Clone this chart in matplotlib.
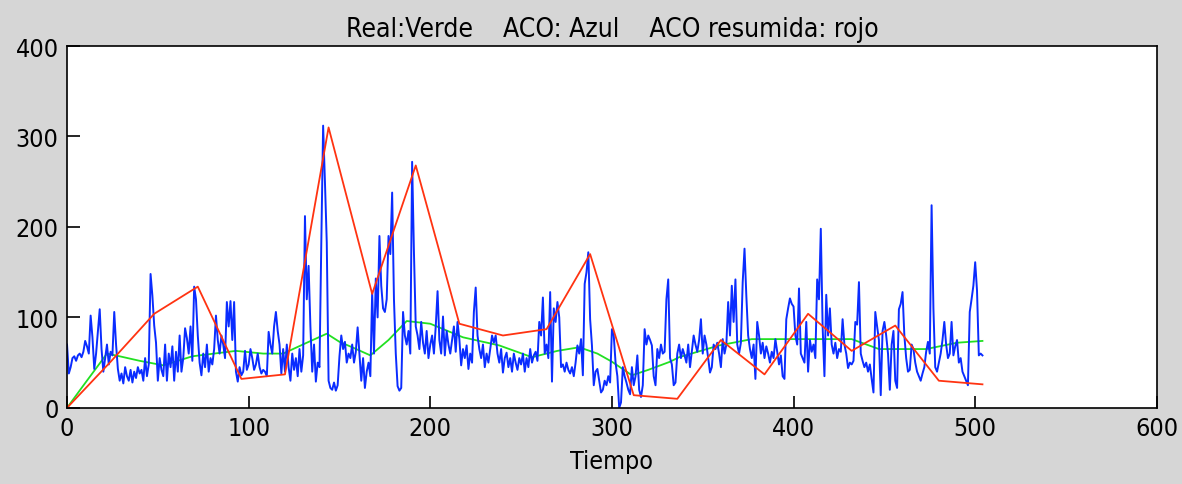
import numpy as np
import matplotlib.pyplot as plt

# serie ACO (azul), un valor por instante t = 0..504
aco = [
    70, 38, 45, 55, 57, 52, 58, 60, 56, 62,
    74, 68, 60, 102, 78, 43, 60, 85, 109, 65,
    40, 55, 70, 48, 62, 58, 106, 70, 43, 30,
    38, 27, 45, 35, 30, 42, 28, 40, 33, 45,
    38, 42, 30, 55, 35, 48, 148, 124, 91, 72,
    30, 55, 42, 35, 70, 30, 60, 45, 68, 30,
    62, 40, 80, 40, 55, 88, 77, 60, 90, 52,
    134, 120, 80, 50, 36, 60, 45, 70, 40, 55,
    48, 65, 102, 75, 60, 80, 70, 55, 117, 90,
    118, 75, 117, 40, 29, 45, 36, 40, 63, 42,
    48, 65, 55, 42, 48, 60, 45, 38, 42, 40,
    35, 84, 70, 60, 90, 106, 85, 70, 38, 65,
    40, 70, 45, 30, 60, 42, 55, 35, 65, 40,
    58, 212, 120, 157, 90, 40, 70, 29, 50, 45,
    183, 312, 250, 183, 30, 22, 20, 28, 19, 25,
    57, 80, 65, 73, 50, 60, 55, 70, 50, 62,
    89, 60, 30, 55, 22, 40, 50, 35, 128, 60,
    143, 100, 190, 135, 110, 106, 120, 190, 170, 238,
    120, 60, 24, 19, 22, 106, 80, 70, 85, 60,
    272, 172, 90, 80, 65, 95, 72, 60, 85, 55,
    70, 80, 60, 90, 129, 75, 60, 101, 58, 85,
    70, 60, 75, 90, 62, 95, 76, 47, 65, 55,
    69, 43, 60, 50, 106, 133, 80, 65, 55, 70,
    45, 60, 50, 65, 80, 72, 80, 60, 50, 65,
    39, 55, 61, 45, 55, 40, 60, 50, 42, 55,
    48, 60, 40, 55, 45, 65, 50, 58, 62, 52,
    95, 80, 122, 60, 70, 55, 128, 29, 110, 95,
    117, 100, 45, 48, 40, 50, 42, 38, 45, 35,
    50, 69, 60, 76, 36, 137, 150, 172, 98, 69,
    25, 40, 43, 30, 17, 20, 30, 25, 35, 28,
    87, 80, 50, 35, 0, 6, 45, 35, 28, 20,
    15, 45, 25, 35, 58, 20, 12, 25, 87, 70,
    80, 75, 69, 35, 25, 65, 55, 70, 60, 62,
    120, 142, 55, 48, 25, 28, 60, 70, 55, 65,
    58, 50, 70, 45, 62, 80, 70, 62, 75, 98,
    60, 80, 70, 55, 39, 45, 70, 65, 72, 60,
    45, 76, 60, 70, 117, 80, 135, 95, 142, 70,
    60, 72, 139, 176, 124, 80, 65, 55, 70, 32,
    95, 80, 60, 72, 55, 68, 60, 50, 62, 55,
    76, 62, 48, 58, 35, 32, 98, 110, 121, 115,
    112, 80, 70, 132, 60, 55, 50, 95, 40, 75,
    62, 70, 55, 142, 120, 198, 90, 35, 125, 80,
    110, 70, 60, 72, 55, 65, 62, 98, 70, 60,
    44, 50, 48, 52, 95, 92, 139, 60, 52, 45,
    50, 40, 48, 32, 17, 106, 90, 75, 14, 85,
    95, 80, 60, 20, 70, 85, 30, 22, 109, 115,
    128, 80, 55, 40, 42, 70, 65, 50, 40, 35,
    30, 38, 45, 62, 73, 60, 224, 110, 45, 40,
    50, 60, 75, 95, 70, 55, 60, 95, 58, 68,
    75, 50, 55, 40, 35, 30, 25, 106, 120, 135,
    161, 130, 58, 60, 58,
]
t_aco = np.arange(len(aco))

# serie real (verde)
t_real = [0, 8, 15, 22, 29, 40, 53, 69, 93, 108, 119, 132, 143, 150, 157,
          167, 177, 187, 200, 218, 238, 256, 270, 282, 292, 300, 311, 320,
          332, 337, 359, 377, 400, 432, 447, 473, 490, 504]
real = [0, 22, 41, 60, 57, 52, 47, 57, 63, 60, 60, 72, 82, 73, 67,
        58, 75, 96, 93, 78, 69, 56, 63, 67, 60, 51, 36, 42,
        51, 56, 69, 76, 76, 76, 65, 65, 72, 74]

# ACO resumida (rojo), un punto cada 24 instantes
t_res = np.arange(0, 505, 24)
resumida = [0, 51, 104, 134, 32, 37, 310, 126, 268, 93, 80, 87, 170, 14,
            10, 75, 37, 104, 63, 91, 30, 26]

plt.rcParams['font.family'] = ['DejaVu Sans']
plt.rcParams['font.stretch'] = 'condensed'

fig = plt.figure(figsize=(11.82, 4.85), dpi=100, facecolor='#d6d6d6')
ax = fig.add_axes([0.0567, 0.157, 0.922, 0.746])

ax.plot(t_real, real, color='#22e022', lw=1.3)
ax.plot(t_aco, aco, color='#0a2cff', lw=1.4)
ax.plot(t_res, resumida, color='#ff3311', lw=1.3)

ax.set_xlim(0, 600)
ax.set_ylim(0, 400)
ax.set_xticks(range(0, 601, 100))
ax.set_yticks(range(0, 401, 100))
ax.tick_params(direction='in', length=9, width=1.2, labelsize=18, pad=6)
for s in ax.spines.values():
    s.set_linewidth(1.2)

ax.set_title('Real:Verde    ACO: Azul    ACO resumida: rojo', fontsize=19, pad=7)
ax.set_xlabel('Tiempo', fontsize=18, labelpad=6)

fig.savefig('out.png', dpi=100, facecolor=fig.get_facecolor())
